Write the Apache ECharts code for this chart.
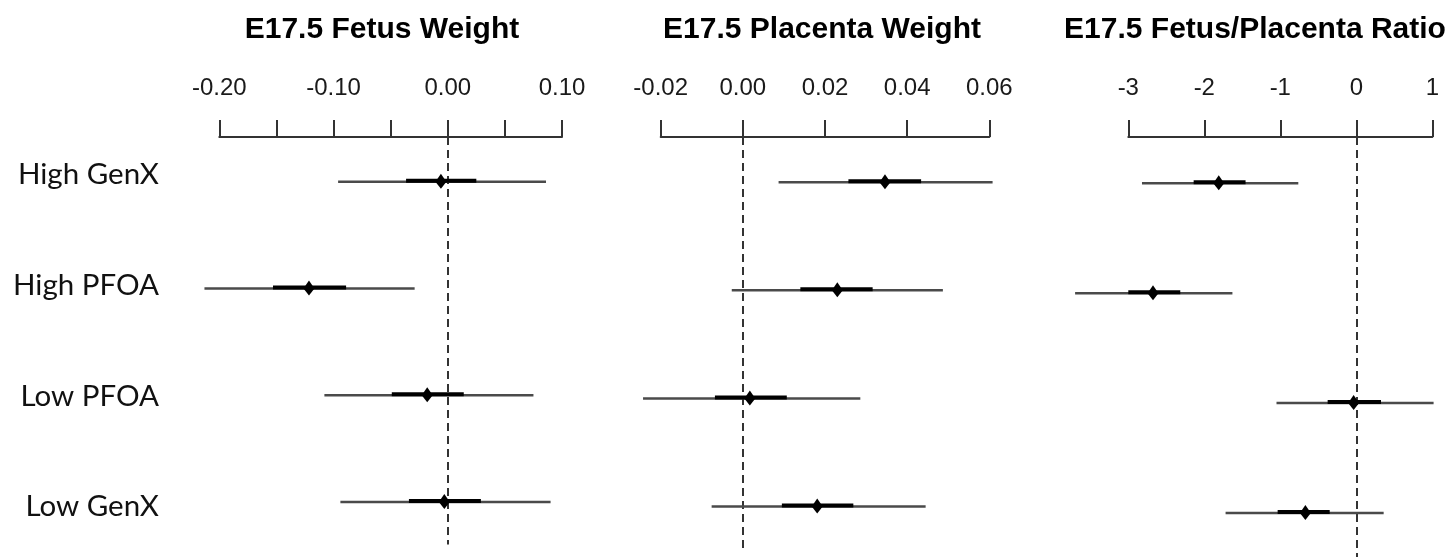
<!DOCTYPE html>
<html><head><meta charset="utf-8">
<script src="https://cdn.jsdelivr.net/npm/echarts@6/dist/echarts.min.js"></script>
<style>html,body{margin:0;padding:0;background:#fff}#c{width:1455px;height:557px}</style>
</head><body><div id="c"></div>
<script>
// ---- data ----
const categories = ['High GenX', 'High PFOA', 'Low PFOA', 'Low GenX'];
const panelTitles = ['E17.5 Fetus Weight', 'E17.5 Placenta Weight', 'E17.5 Fetus/Placenta Ratio'];

const fetusEst  = [-0.006, -0.1215, -0.018, -0.003];
const fetusLo95 = [-0.096, -0.213, -0.108, -0.094];
const fetusHi95 = [0.086, -0.029, 0.075, 0.090];
const fetusLoIn = [-0.0365, -0.153, -0.049, -0.034];
const fetusHiIn = [0.025, -0.089, 0.014, 0.029];

const placentaEst  = [0.0346, 0.023, 0.0017, 0.0181];
const placentaLo95 = [0.0087, -0.0027, -0.0243, -0.0076];
const placentaHi95 = [0.0608, 0.0487, 0.0286, 0.0445];
const placentaLoIn = [0.0257, 0.014, -0.0068, 0.0095];
const placentaHiIn = [0.0434, 0.0316, 0.0107, 0.0269];

const ratioEst  = [-1.81, -2.675, -0.035, -0.67];
const ratioLo95 = [-2.82, -3.70, -1.05, -1.72];
const ratioHi95 = [-0.763, -1.63, 1.017, 0.36];
const ratioLoIn = [-2.14, -3.00, -0.377, -1.035];
const ratioHiIn = [-1.457, -2.316, 0.325, -0.35];

const fetusTicks = {min: -0.20, max: 0.10, interval: 0.05};
const placentaTicks = {min: -0.02, max: 0.06, interval: 0.02};
const ratioTicks = {min: -3, max: 1, interval: 1};

// ---- build ----
function rows(est, lo, hi, loIn, hiIn) {
  return categories.map((c, i) => [i + 1, lo[i], hi[i], loIn[i], hiIn[i], est[i]]);
}
const panels = [
  {data: rows(fetusEst, fetusLo95, fetusHi95, fetusLoIn, fetusHiIn), ticks: fetusTicks,
   fmt: v => { const r = Math.round(v * 100); return (r % 10 === 0) ? (r / 100).toFixed(2) : ''; },
   grid: {left: 219.3, width: 342.7, top: 137, height: 407.6}, titleX: 377},
  {data: rows(placentaEst, placentaLo95, placentaHi95, placentaLoIn, placentaHiIn), ticks: placentaTicks,
   fmt: v => (Math.round(v * 100) / 100).toFixed(2),
   grid: {left: 660.7, width: 328.6, top: 137, height: 412.6}, titleX: 817},
  {data: rows(ratioEst, ratioLo95, ratioHi95, ratioLoIn, ratioHiIn), ticks: ratioTicks,
   fmt: v => String(Math.round(v)),
   grid: {left: 1128.3, width: 304, top: 137, height: 421.7}, titleX: 1250}
];

function renderItem(params, api) {
  const y = api.value(0);
  const a = api.coord([api.value(1), y]);
  const b = api.coord([api.value(2), y]);
  const c = api.coord([api.value(3), y]);
  const d = api.coord([api.value(4), y]);
  const e = api.coord([api.value(5), y]);
  return {
    type: 'group',
    children: [
      {type: 'line', shape: {x1: a[0], y1: a[1], x2: b[0], y2: b[1]},
       style: {stroke: '#4a4a4a', lineWidth: 2.5}},
      {type: 'line', shape: {x1: c[0], y1: c[1] - 1, x2: d[0], y2: d[1] - 1},
       style: {stroke: '#000', lineWidth: 4}},
      {type: 'polygon', shape: {points: [[e[0], e[1] - 8], [e[0] + 5.5, e[1]], [e[0], e[1] + 7], [e[0] - 5.5, e[1]]]},
       style: {fill: '#000'}}
    ]
  };
}

const grids = [], xAxes = [], yAxes = [], series = [], titles = [];
panels.forEach((p, i) => {
  grids.push(p.grid);
  xAxes.push({
    gridIndex: i, type: 'value', position: 'top',
    min: p.ticks.min, max: p.ticks.max, interval: p.ticks.interval,
    axisLine: {show: true, lineStyle: {color: '#333', width: 2}},
    axisTick: {show: true, inside: false, length: 17, lineStyle: {color: '#333', width: 2}},
    axisLabel: {margin: 37, fontSize: 24, color: '#1a1a1a', fontFamily: 'Liberation Sans, Arial, sans-serif',
      formatter: p.fmt, showMinLabel: true, showMaxLabel: true},
    splitLine: {show: false}
  });
  yAxes.push({gridIndex: i, type: 'value', inverse: true, min: 0.58, max: 4.4, show: false});
  series.push({
    type: 'custom', xAxisIndex: i, yAxisIndex: i, clip: false,
    encode: {x: [1, 2, 3, 4, 5], y: 0},
    renderItem: renderItem, data: p.data, z: 3,
    markLine: {silent: true, symbol: 'none', label: {show: false},
      lineStyle: {type: [8, 5], color: '#333', width: 2},
      data: [{xAxis: 0}], z: 2}
  });
  titles.push({text: panelTitles[i], left: p.titleX, top: 10, textAlign: 'center',
    textStyle: {fontSize: 30, fontWeight: 'bold', color: '#000', fontFamily: 'Liberation Sans, Arial, sans-serif'}});
});

// row label grid
grids.push({left: 165, width: 1, top: 174.5, height: 332.3});
xAxes.push({gridIndex: 3, type: 'value', show: false});
yAxes.push({gridIndex: 3, type: 'category', data: categories, inverse: true, boundaryGap: false,
  axisLine: {show: false}, axisTick: {show: false},
  axisLabel: {margin: 6, fontSize: 29.5, color: '#111', fontFamily: 'Lato, Carlito, sans-serif'}});

const chart = echarts.init(document.getElementById('c'));
chart.setOption({
  animation: false,
  backgroundColor: '#fff',
  title: titles,
  grid: grids,
  xAxis: xAxes,
  yAxis: yAxes,
  series: series
});
</script></body></html>
